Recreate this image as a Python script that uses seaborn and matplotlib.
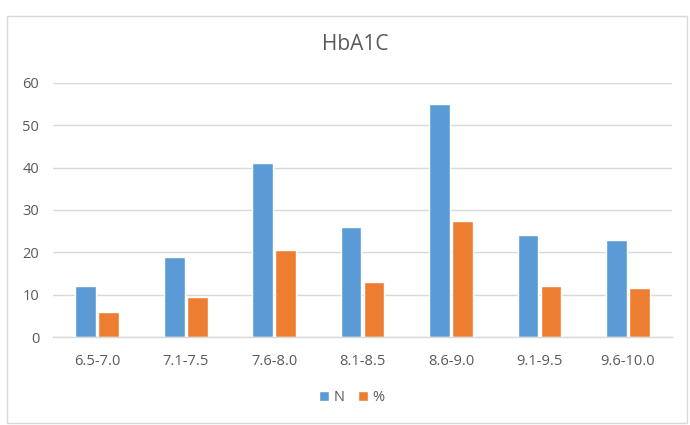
import matplotlib
matplotlib.use("Agg")
import matplotlib.pyplot as plt
import seaborn as sns
import pandas as pd
from matplotlib.patches import Rectangle

categories = ["6.5-7.0", "7.1-7.5", "7.6-8.0", "8.1-8.5", "8.6-9.0", "9.1-9.5", "9.6-10.0"]
n_values = [12, 19, 41, 26, 55, 24, 23]
pct_values = [6, 9.5, 20.5, 13, 27.5, 12, 11.5]
series_names = ["N", "%"]
yticks = [0, 10, 20, 30, 40, 50, 60]

df = pd.DataFrame({
    "range": categories * 2,
    "value": n_values + pct_values,
    "series": [series_names[0]] * len(categories) + [series_names[1]] * len(categories),
})

sns.set_theme(style="white")
plt.rcParams['font.family'] = ['Open Sans', 'DejaVu Sans']
text_color = "#595959"

fig = plt.figure(figsize=(6.9, 4.25), dpi=100)
ax = fig.add_axes([0.077, 0.207, 0.897, 0.598])

sns.barplot(data=df, x="range", y="value", hue="series", order=categories,
            hue_order=series_names, palette=["#5B9BD5", "#ED7D31"],
            width=0.52, gap=0.1, ax=ax, legend=True, saturation=1)

ax.set_ylim(0, 60)
ax.set_yticks(yticks)
ax.set_xlim(-0.5, len(categories) - 0.5)
ax.grid(axis="y", color="#D9D9D9", linewidth=1)
ax.set_axisbelow(True)
for s in ["top", "right", "left"]:
    ax.spines[s].set_visible(False)
ax.spines["bottom"].set_color("#D9D9D9")
ax.spines["bottom"].set_linewidth(1)
ax.tick_params(axis="both", colors=text_color, labelsize=10.5, length=0)
ax.tick_params(axis="x", pad=12)
ax.tick_params(axis="y", pad=10)
ax.set_xlabel("")
ax.set_ylabel("")

fig.text(0.515, 0.895, "HbA1C", ha="center", va="center", fontsize=15, color=text_color)

leg = ax.legend(loc="center", bbox_to_anchor=(0.51, 0.065), bbox_transform=fig.transFigure,
                ncol=2, frameon=False, fontsize=10.5, handlelength=0.7, handleheight=0.7,
                columnspacing=0.9, handletextpad=0.3)
for t in leg.get_texts():
    t.set_color(text_color)

fig.patches.append(Rectangle((0.01, 0.005), 0.985, 0.958, transform=fig.transFigure,
                             fill=False, edgecolor="#D9D9D9", linewidth=1))

fig.savefig("out.png", dpi=100)
